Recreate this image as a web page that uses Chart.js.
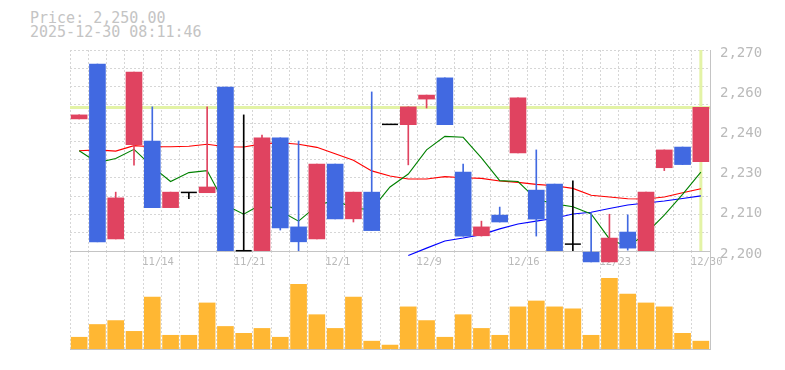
<!DOCTYPE html>
<html>
<head>
<meta charset="utf-8">
<script src="https://cdn.jsdelivr.net/npm/chart.js@4.4.1/dist/chart.umd.min.js"></script>
<style>
  html, body { margin: 0; padding: 0; background: #fff; }
  #wrap { position: relative; width: 785px; height: 370px; overflow: hidden; }
  #info { position: absolute; left: 30px; top: 11px; font: 15px/14px "DejaVu Sans Mono", monospace; color: #c4c4c4; white-space: pre; }
  #volCanvas { position: absolute; left: 0; top: 251px; }
  #priceCanvas { position: absolute; left: 0; top: 0; }
</style>
</head>
<body>
<div id="wrap">
  <div id="info">Price: 2,250.00
2025-12-30 08:11:46</div>
  <canvas id="volCanvas" width="785" height="119"></canvas>
  <canvas id="priceCanvas" width="785" height="272"></canvas>
</div>
<script>
// -----------------------------
// Data
// -----------------------------
const dates = [
  '11/10', '11/11', '11/12', '11/13', '11/14',
  '11/17', '11/18', '11/19', '11/20', '11/21',
  '11/25', '11/26', '11/27', '11/28', '12/1',
  '12/2', '12/3', '12/4', '12/5', '12/9',
  '12/10', '12/11', '12/12', '12/15', '12/16',
  '12/17', '12/18', '12/19', '12/22', '12/23',
  '12/24', '12/25', '12/26', '12/29', '12/30'
];
const tickDates = ['11/14', '11/21', '12/1', '12/9', '12/16', '12/23', '12/30'];
const priceTicks = ['2,200', '2,210', '2,230', '2,240', '2,260', '2,270'];

const open = [2246.0, 2265.1, 2204.2, 2237.0, 2238.3, 2215.1, 2220.4, 2220.3, 2257.1, 2200.1,
              2200.1, 2239.4, 2208.4, 2204.2, 2230.3, 2211.2, 2220.5, 2244.1, 2244.0, 2252.9,
              2260.3, 2227.5, 2205.3, 2212.5, 2234.2, 2221.2, 2223.3, 2202.4, 2199.6, 2196.2,
              2206.6, 2200.1, 2229.0, 2236.2, 2231.1];
const high = [2247.4, 2265.1, 2220.5, 2262.3, 2250.2, 2220.5, 2220.4, 2250.2, 2257.1, 2247.4,
              2240.4, 2239.4, 2238.3, 2230.3, 2230.3, 2220.5, 2255.4, 2244.1, 2250.2, 2254.3,
              2260.3, 2230.3, 2210.4, 2215.3, 2253.3, 2235.2, 2223.3, 2224.4, 2213.0, 2212.8,
              2212.6, 2220.5, 2235.2, 2236.2, 2250.0];
const low = [2246.0, 2203.2, 2204.2, 2229.9, 2215.1, 2215.1, 2218.2, 2220.3, 2200.1, 2200.1,
             2200.1, 2207.3, 2200.1, 2204.2, 2211.2, 2210.1, 2207.1, 2244.1, 2230.0, 2249.8,
             2244.0, 2205.2, 2205.2, 2210.1, 2234.2, 2205.2, 2200.1, 2200.1, 2196.2, 2196.2,
             2200.3, 2200.1, 2228.0, 2230.1, 2231.1];
const close = [2247.4, 2203.2, 2218.5, 2262.3, 2215.1, 2220.5, 2220.4, 2222.3, 2200.1, 2200.1,
               2239.4, 2208.0, 2203.2, 2230.3, 2211.2, 2220.5, 2207.1, 2244.1, 2250.2, 2254.3,
               2244.0, 2205.2, 2208.4, 2210.1, 2253.3, 2211.1, 2200.1, 2202.4, 2196.2, 2204.5,
               2201.0, 2220.5, 2235.2, 2230.1, 2250.0];

const ma5 = [2234.9, 2230.8, 2232.2, 2235.4, 2229.4, 2224.2, 2227.3, 2228.0, 2216.0, 2212.8,
             2216.4, 2213.9, 2210.4, 2215.8, 2217.8, 2214.8, 2214.5, 2222.3, 2226.8, 2235.2,
             2239.9, 2239.6, 2232.4, 2224.5, 2224.2, 2218.1, 2216.4, 2215.4, 2212.9, 2204.2,
             2201.4, 2206.1, 2212.5, 2219.7, 2227.5];
const ma25 = [2234.9, 2235.2, 2234.8, 2236.7, 2236.3, 2236.3, 2236.5, 2237.2, 2236.3, 2236.2,
              2237.3, 2237.7, 2237.2, 2236.1, 2233.9, 2231.6, 2227.9, 2226.1, 2225.1, 2225.1,
              2225.9, 2225.5, 2225.3, 2224.4, 2223.9, 2223.2, 2222.7, 2221.8, 2219.4, 2218.8,
              2218.2, 2218.1, 2218.8, 2220.3, 2221.7];
const ma75 = [null, null, null, null, null, null, null, null, null, null,
              null, null, null, null, null, null, null, null, 2198.4, 2201.0,
              2203.5, 2204.5, 2205.7, 2207.7, 2209.4, 2210.4, 2211.4, 2212.9, 2213.5, 2214.8,
              2216.0, 2216.7, 2217.4, 2218.3, 2219.2];

const volume = [1200, 2500, 2900, 1800, 5300, 1400, 1400, 4700, 2300, 1600,
                2100, 1200, 6600, 3500, 2100, 5300, 800, 400, 4300, 2900,
                1200, 3500, 2100, 1400, 4300, 4900, 4300, 4100, 1400, 7200,
                5600, 4700, 4300, 1600, 800];

// -----------------------------
// Styles
// -----------------------------
const UP = '#e04360';
const DOWN = '#4169e1';
const DOJI = '#000000';
const VOL = '#ffb733';
const HAIR = '#e3f3a6';
const GRID = '#d6d6d6';
const AXIS = '#c4c4c4';
const TXT = '#bababa';
const MONO = "'DejaVu Sans Mono', monospace";

const candleColor = close.map((c, i) => c > open[i] ? UP : (c < open[i] ? DOWN : DOJI));
const bodies = open.map((o, i) => o === close[i] ? null : [o, close[i]]);
const wicks = low.map((l, i) => [l, high[i]]);
const dojis = open.map((o, i) => o === close[i] ? o : null);

// current price crosshair, under the candles
const crosshair = {
  id: 'crosshair',
  beforeDatasetsDraw(chart) {
    const {ctx, chartArea: a, scales: {x, y}} = chart;
    const last = close.length - 1;
    const py = y.getPixelForValue(close[last]);
    const px = x.getPixelForValue(last);
    ctx.save();
    ctx.strokeStyle = HAIR;
    ctx.lineWidth = 3;
    ctx.beginPath();
    ctx.moveTo(a.left, py); ctx.lineTo(a.right, py);
    ctx.moveTo(px, a.top); ctx.lineTo(px, a.bottom);
    ctx.stroke();
    ctx.restore();
  }
};

const maLine = (data, color) => ({
  type: 'line', data: data, borderColor: color, borderWidth: 1.1,
  pointRadius: 0, tension: 0, order: 3, clip: false
});

// -----------------------------
// Price chart
// -----------------------------
new Chart(document.getElementById('priceCanvas'), {
  type: 'bar',
  data: {
    labels: dates,
    datasets: [
      {type: 'line', data: dojis, showLine: false, pointStyle: 'line', pointRadius: 8, pointHoverRadius: 8,
       borderColor: DOJI, pointBorderColor: DOJI, pointBorderWidth: 1.5, order: 0, clip: false},
      {data: bodies, backgroundColor: candleColor, barThickness: 16, grouped: false, order: 1, clip: false},
      {data: wicks, backgroundColor: candleColor, barThickness: 1, grouped: false, order: 2, clip: false},
      maLine(ma5, '#008000'),
      maLine(ma25, '#ff0000'),
      maLine(ma75, '#0000ff')
    ]
  },
  options: {
    responsive: false,
    animation: false,
    layout: {padding: {left: 70, top: 50, right: 0, bottom: 0}},
    plugins: {legend: {display: false}, tooltip: {enabled: false}},
    scales: {
      x: {
        offset: true,
        grid: {offset: true, color: GRID, drawTicks: false},
        border: {color: AXIS, dash: [2, 2]},
        ticks: {
          autoSkip: false, maxRotation: 0, align: 'start', labelOffset: -10, padding: 5,
          color: TXT, font: {family: MONO, size: 10.5},
          callback: (v, i) => tickDates.includes(dates[i]) ? dates[i] : ''
        },
        afterFit: s => { s.height = 21; }
      },
      y: {
        position: 'right', min: 2200, max: 2270,
        ticks: {stepSize: 14, padding: 10, labelOffset: 3, color: TXT, font: {family: MONO, size: 14},
                callback: (v, i) => priceTicks[i]},
        grid: {display: false, drawTicks: false},
        border: {color: AXIS},
        afterFit: s => { s.width = 75; }
      },
      yg: {
        position: 'left', min: 0, max: 11,
        ticks: {stepSize: 1, display: false},
        grid: {color: GRID, drawTicks: false},
        border: {display: false, dash: [2, 2]},
        afterFit: s => { s.width = 0; }
      }
    }
  },
  plugins: [crosshair]
});

// -----------------------------
// Volume chart
// -----------------------------
new Chart(document.getElementById('volCanvas'), {
  type: 'bar',
  data: {
    labels: dates,
    datasets: [{data: volume, backgroundColor: VOL, barThickness: 16}]
  },
  options: {
    responsive: false,
    animation: false,
    layout: {padding: {left: 70, top: 0, right: 0, bottom: 0}},
    plugins: {legend: {display: false}, tooltip: {enabled: false}},
    scales: {
      x: {
        offset: true,
        grid: {offset: true, color: GRID, drawTicks: false},
        border: {color: AXIS, dash: [2, 2]},
        ticks: {display: false, autoSkip: false},
        afterFit: s => { s.height = 21; }
      },
      y: {
        position: 'right', min: 0, max: 10000,
        ticks: {display: false},
        grid: {display: false, drawTicks: false},
        border: {color: AXIS},
        afterFit: s => { s.width = 75; }
      }
    }
  }
});
</script>
</body>
</html>
